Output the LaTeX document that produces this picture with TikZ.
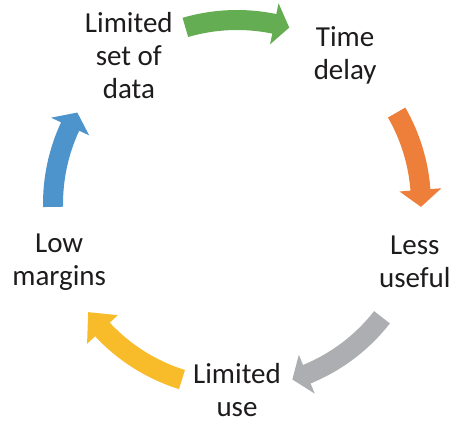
\documentclass[tikz,border=0pt]{standalone}
\usepackage{fontspec}
\setmainfont{Carlito}
\definecolor{txtdark}{HTML}{1E1B1C}
\definecolor{arrgreen}{HTML}{64AD53}
\definecolor{arrorange}{HTML}{ED7F3B}
\definecolor{arrgray}{HTML}{ADAEB1}
\definecolor{arryellow}{HTML}{F8BC2A}
\definecolor{arrblue}{HTML}{4E94CC}
\tikzset{lbl/.style={align=center, inner sep=0pt, font=\fontsize{16.5}{18.8}\selectfont, text=txtdark}}
% curved block arrow on the ring: colour, tail angle, head base angle, tip angle
\newcommand\cycarrow[4]{%
  \fill[#1] (#2:194) arc[start angle=#2, end angle=#3, radius=194] -- (#3:205)
    -- (#4:184) -- (#3:163) -- (#3:174) arc[start angle=#3, end angle=#2, radius=174] -- cycle;}
\begin{document}
\begin{tikzpicture}[x=0.02cm, y=0.02cm]
	\useasboundingbox (0,0) rectangle (457,422);
	\begin{scope}[shift={(237,218)}]
		\node[lbl] (data) at (126:184) {Limited\\set of\\data};
		\node[lbl] (delay) at (54:184) {Time\\delay};
		\node[lbl] (useful) at (-18:187) {Less\\useful};
		\node[lbl] (use) at (-90:186) {Limited\\use};
		\node[lbl] (margins) at (198:187) {Low\\margins};

		\cycarrow{arrgreen}{106.3}{78.3}{73.5}
		\cycarrow{arrorange}{29.8}{4.4}{-0.9}
		\cycarrow{arrgray}{-38}{-67.7}{-72.5}
		\cycarrow{arryellow}{-107.4}{-137}{-144}
		\cycarrow{arrblue}{180.9}{155.1}{150.2}
	\end{scope}
\end{tikzpicture}
\end{document}
